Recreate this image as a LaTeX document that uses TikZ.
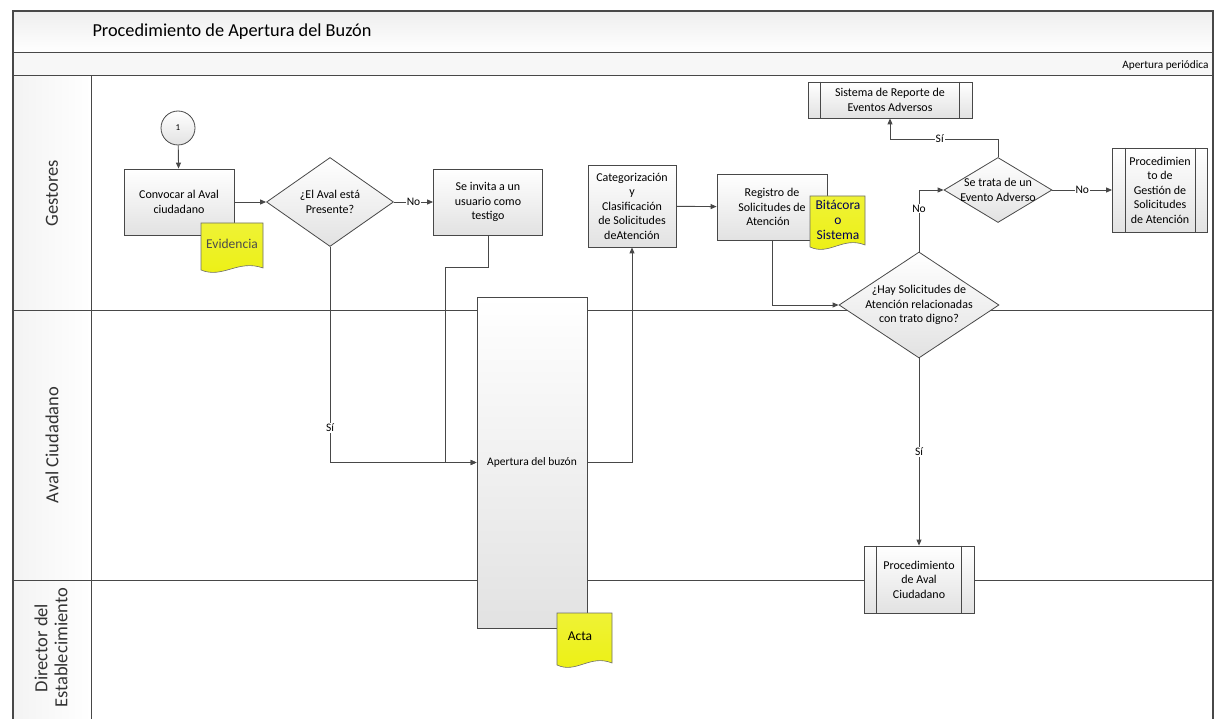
\documentclass[tikz,border=0pt]{standalone}
\usepackage{fontspec}
\setmainfont{Carlito}
\usetikzlibrary{arrows.meta,shapes.geometric}
\definecolor{linegray}{RGB}{72,72,72}
\definecolor{boxbot}{RGB}{226,226,226}
\definecolor{docyellow}{RGB}{236,240,18}
\definecolor{bandgray}{RGB}{238,238,238}
\newcommand{\docpath}[4]{\path[doc] (#1,#2) -- (#3,#2) -- (#3,{#4-5}) .. controls ({#1+0.6*(#3-#1)},{#4-14}) and ({#1+0.35*(#3-#1)},{#4+6}) .. (#1,{#4-3}) -- cycle;}
\tikzset{
  proc/.style={draw=linegray,line width=0.8pt,top color=white,bottom color=boxbot,align=center,inner sep=2pt,font=\fontsize{12}{14.5}\selectfont},
  dec/.style={shape=diamond,draw=linegray,line width=0.8pt,top color=white,bottom color=boxbot,inner sep=0pt},
  dectext/.style={align=center,font=\fontsize{12}{14.5}\selectfont},
  doc/.style={draw=linegray!80,line width=0.6pt,top color=docyellow!85!white,bottom color=docyellow},
  doctext/.style={align=center,font=\fontsize{13.5}{15}\selectfont},
  lane/.style={rotate=90,align=center,text=black!80,font=\fontsize{18.5}{20}\selectfont},
  flow/.style={-{Triangle[length=6pt,width=5pt]},line width=0.9pt,draw=linegray},
  lbl/.style={fill=white,inner sep=1pt,font=\fontsize{11.5}{13}\selectfont},
}
\begin{document}
\begin{tikzpicture}[x=1pt,y=-1pt]
\useasboundingbox (0,0) rectangle (1214,719);
\fill[top color=bandgray,bottom color=white] (13,11) rectangle (1213,53);
\fill[bandgray!50] (13,53) rectangle (1213,76);
\fill[left color=bandgray!70,right color=white] (13,76) rectangle (91,719);
\draw[linegray,line width=1.2pt] (13,719) -- (13,11) -- (1213,11) -- (1213,719);
\draw[linegray,line width=1pt] (13,53) -- (1213,53) (13,76) -- (1213,76) (13,310) -- (1213,310) (13,580) -- (1213,580) (91,76) -- (91,719);

\node[anchor=west,font=\fontsize{18.3}{20}\selectfont] (title) at (89,32) {Procedimiento de Apertura del Buzón};
\node[anchor=east,font=\fontsize{11.3}{12}\selectfont] (periodo) at (1212,65) {Apertura periódica};
\node[lane] (gestores) at (52,193) {Gestores};
\node[lane] (avalc) at (52,445) {Aval Ciudadano};
\node[lane] (director) at (51,648) {Director del\\Establecimiento};

\node[draw=linegray,line width=0.8pt,circle,minimum size=34pt,inner sep=0pt,top color=white,bottom color=boxbot,font=\small] (c1) at (178,128) {1};
\node[proc,minimum width=110pt,minimum height=66pt] (convocar) at (179,202) {Convocar al Aval\\ciudadano};
\docpath{201}{223}{263}{273}
\node[doctext,text=black!70] (evid) at (232,244) {Evidencia};
\node[dec,minimum width=127pt,minimum height=89pt,label={[dectext]center:{¿El Aval está\\Presente?}}] (aval) at (330,202) {};
\node[proc,minimum width=109pt,minimum height=66pt] (invita) at (488,202) {Se invita a un\\usuario como\\testigo};
\node[proc,minimum width=110pt,minimum height=331pt,font=\fontsize{11.5}{13}\selectfont] (apertura) at (532,462.5) {Apertura del buzón};
\docpath{557}{613}{612}{668}
\node[doctext] (acta) at (580,636) {Acta};
\node[proc,minimum width=88pt,minimum height=82pt] (categ) at (632,206) {Categorización\\y\\Clasificación\\de Solicitudes\\deAtención};
\node[proc,minimum width=110pt,minimum height=66pt] (registro) at (772,207) {Registro de\\Solicitudes de\\Atención\hspace*{8pt}};
\docpath{810}{196}{865}{250}
\node[doctext,text=blue!35!black] (bitacora) at (838,220) {Bitácora\\o\\Sistema};
\node[dec,minimum width=160pt,minimum height=106pt,label={[dectext]center:{¿Hay Solicitudes de\\Atención relacionadas\\con trato digno?}}] (hay) at (919,305) {};
\node[dec,minimum width=108pt,minimum height=65pt,label={[dectext]center:{Se trata de un\\Evento Adverso}}] (trata) at (998,190) {};
\node[proc,minimum width=164pt,minimum height=36pt] (sistema) at (890,100) {Sistema de Reporte de\\Eventos Adversos};
\node[proc,minimum width=95pt,minimum height=84pt] (gestion) at (1160,190) {Procedimien\\to de\\Gestión de\\Solicitudes\\de Atención};
\node[proc,minimum width=110pt,minimum height=67pt] (procaval) at (919,579.5) {Procedimiento\\de Aval\\Ciudadano};
\foreach \n in {sistema,gestion,procaval}
  \draw[linegray,line width=0.8pt] ([xshift=13pt]\n.north west) -- ([xshift=13pt]\n.south west) ([xshift=-13pt]\n.north east) -- ([xshift=-13pt]\n.south east);

\coordinate (bend) at (445,267);
\draw[flow] (c1) -- (convocar);
\draw[flow] (convocar) -- (aval);
\draw[flow] (aval) -- node[lbl]{No} (invita);
\draw[flow] (aval.south) |- node[lbl,pos=0.42]{Sí} (apertura.west);
\draw[flow] (invita.south) |- (bend) |- (apertura.west);
\draw[flow] (apertura.east) -| (categ.south);
\draw[flow] (categ) -- (registro);
\draw[flow] (registro.south) |- (hay.west);
\draw[flow] (hay.north) |- node[lbl,pos=0.35]{No} (trata.west);
\draw[flow] (trata.north) -- ++(0,-18) -| node[lbl,pos=0.27]{Sí} (sistema.south);
\draw[flow] (trata) -- node[lbl]{No} (gestion);
\draw[flow] (hay) -- node[lbl]{Sí} (procaval);
\end{tikzpicture}
\end{document}
